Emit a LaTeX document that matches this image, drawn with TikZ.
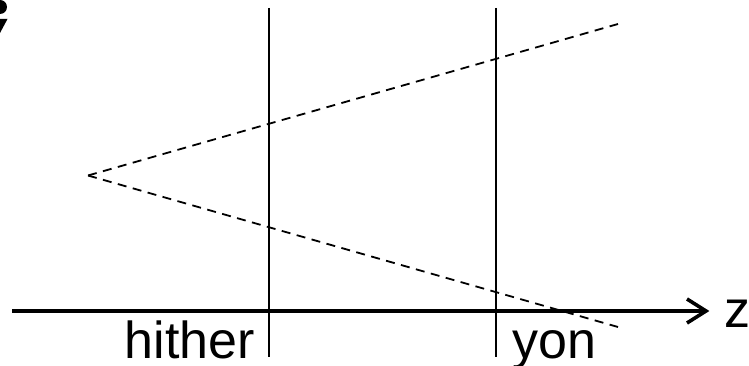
\documentclass[tikz,border=0pt]{standalone}
\usepackage{fontspec}
\setmainfont{Liberation Sans}
\begin{document}
\begin{tikzpicture}[x=1pt,y=-1pt,
  axisline/.style={line width=3.6pt},
  planeline/.style={line width=1.8pt},
  rayline/.style={line width=1.8pt, dash pattern=on 9pt off 6.5pt},
  lbl/.style={inner sep=0pt, anchor=base, font=\fontsize{52}{60}\selectfont}]
\useasboundingbox (0,0) rectangle (749,366);
% cropped glyph at top-left
\fill (0,7) circle (7);
\fill (0,19) -- (7.5,19) -- (0,33) -- cycle;
% coordinates
\coordinate (axL) at (12,311);
\coordinate (axR) at (706,311);
\coordinate (hT) at (269,8);
\coordinate (hB) at (269,357);
\coordinate (yT) at (496,8);
\coordinate (yB) at (496,357);
\coordinate (eye) at (88,175.5);
\coordinate (rU) at (618,24);
\coordinate (rD) at (618,327);
% axis
\draw[axisline] (axL) -- (axR);
\draw[axisline, line join=miter] (687,299) -- (axR) -- (687,323);
% planes
\draw[planeline] (hT) -- (hB);
\draw[planeline] (yT) -- (yB);
% view rays
\draw[rayline] (eye) -- (rU);
\draw[rayline] (eye) -- (rD);
% labels
\node[lbl] (hither) at (190,358) {hither};
\node[lbl] (yon) at (554,358) {yon};
\node[lbl] (z) at (737,327) {z};
\end{tikzpicture}
\end{document}
